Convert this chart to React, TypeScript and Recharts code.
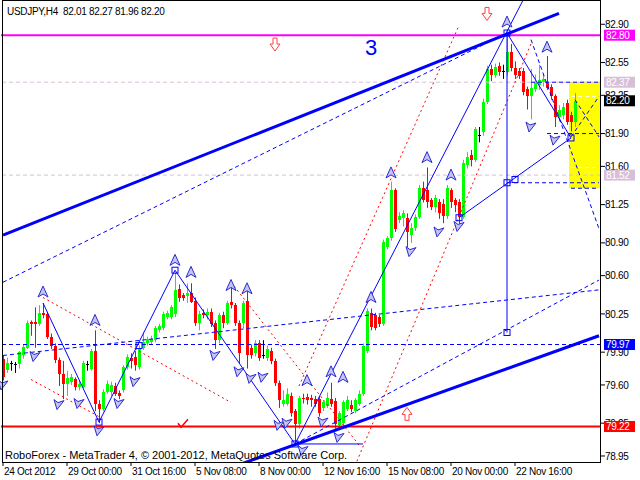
import React from 'react';
import { ComposedChart, Bar, XAxis, YAxis, ReferenceLine, ReferenceArea, ReferenceDot } from 'recharts';

const FONT = '"Liberation Sans", Arial, sans-serif';

const timeLabels = ['24 Oct 2012', '29 Oct 00:00', '31 Oct 16:00', '5 Nov 08:00', '8 Nov 00:00', '12 Nov 16:00', '15 Nov 08:00', '20 Nov 00:00', '22 Nov 16:00'];
const labelBars = [0, 16, 32, 48, 64, 80, 96, 112, 128];
const priceTicks = [82.9, 82.55, 82.25, 81.9, 81.6, 81.25, 80.9, 80.6, 80.25, 79.9, 79.6, 79.25, 78.95];
const totalSlots = 150;
const priceDomain = [78.895, 83.113];

const opens = [79.84,79.74,79.80,79.79,79.79,79.87,79.94,80.18,80.18,80.16, 80.26,80.25,80.04,79.96,79.83,79.70,79.61,79.63,79.65,79.58, 79.58,79.79,79.75,79.91,79.43,79.38,79.54,79.54,79.59,79.53, 79.55,79.76,79.85,79.86,79.76,79.94,79.98,79.99,80.01,80.10, 80.12,80.22,80.22,80.25,80.48,80.42,80.41,80.44,80.37,80.17, 80.26,80.24,80.27,80.17,80.01,80.24,80.17,80.36,80.33,80.17, 80.17,80.37,79.94,79.89,79.98,79.87,79.85,79.91,79.82,79.62, 79.43,79.43,79.50,79.36,79.24,79.48,79.49,79.48,79.47,79.47, 79.39,79.41,79.47,79.45,79.23,79.25,79.38,79.42,79.36,79.43, 79.52,79.91,80.26,80.24,80.22,80.16,80.86,80.94,81.38,81.11, 81.13,81.13,80.97,81.04,81.14,81.40,81.38,81.29,81.23,81.27, 81.26,81.15,81.38,81.29,81.27,81.14,81.61,81.70,81.66,81.89, 81.91,82.19,82.49,82.44,82.52,82.47,82.46,82.65,82.50,82.47, 82.47,82.31,82.24,82.31,82.34,82.37,82.37,82.33,82.24,82.05, 82.07,82.18,82.07,82.01];
const highs = [79.87,79.85,79.82,79.81,79.91,79.97,80.19,80.19,80.31,80.33, 80.35,80.27,80.07,79.98,79.85,79.82,79.73,79.70,79.67,79.64, 79.82,79.82,79.93,80.10,79.46,79.56,79.64,79.63,79.62,79.55, 79.78,79.88,79.89,79.91,79.96,80.08,80.04,80.05,80.14,80.16, 80.27,80.28,80.33,80.63,80.52,80.44,80.53,80.53,80.40,80.28, 80.29,80.30,80.30,80.19,80.26,80.27,80.37,80.50,80.35,80.19, 80.37,80.50,79.97,80.01,80.01,80.01,79.96,79.94,79.84,79.64, 79.55,79.57,79.53,79.38,79.50,79.52,79.52,79.51,79.50,79.49, 79.46,79.53,79.62,79.48,79.36,79.46,79.50,79.46,79.48,79.55, 79.98,80.30,80.30,80.26,80.24,80.93,80.96,81.46,81.40,81.18, 81.20,81.17,81.08,81.16,81.43,81.46,81.59,81.31,81.34,81.30, 81.30,81.43,81.40,81.31,81.30,81.66,81.73,81.75,81.96,81.96, 82.22,82.52,82.53,82.54,82.55,82.53,82.84,82.72,82.56,82.50, 82.50,82.33,82.49,82.44,82.53,82.44,82.61,82.35,82.26,82.16, 82.18,82.21,82.10,82.27];
const lows = [79.64,79.71,79.73,79.71,79.75,79.84,79.93,80.05,79.94,80.14, 80.21,80.02,79.93,79.80,79.59,79.47,79.50,79.60,79.55,79.55, 79.57,79.73,79.73,79.36,79.25,79.36,79.52,79.50,79.50,79.47, 79.53,79.74,79.75,79.73,79.74,79.92,79.96,79.97,79.99,80.08, 80.10,80.20,80.20,80.22,80.36,80.37,80.35,80.35,80.14,80.10, 80.21,80.20,80.13,79.93,79.98,80.12,80.15,80.30,80.14,79.80, 80.12,79.75,79.84,79.86,79.82,79.84,79.82,79.79,79.59,79.39, 79.40,79.41,79.31,79.07,79.20,79.43,79.42,79.40,79.40,79.31, 79.36,79.39,79.40,79.20,79.20,79.22,79.36,79.35,79.34,79.41, 79.50,79.89,80.10,80.10,80.13,80.14,80.84,80.92,81.00,81.08, 81.05,80.86,80.90,81.01,81.12,81.27,81.22,81.20,81.18,81.12, 81.08,81.12,81.22,81.18,81.05,81.12,81.58,81.60,81.64,81.82, 81.88,82.17,82.38,82.41,82.43,82.40,82.43,82.47,82.40,82.40, 82.25,82.12,82.03,82.28,82.30,82.33,82.30,82.21,81.96,82.01, 82.03,81.98,81.92,81.96];
const closes = [79.67,79.80,79.80,79.79,79.90,79.95,80.17,80.16,80.16,80.26, 80.24,80.04,79.96,79.83,79.70,79.61,79.66,79.67,79.58,79.61, 79.80,79.79,79.91,79.43,79.38,79.54,79.61,79.60,79.52,79.50, 79.76,79.86,79.82,79.78,79.94,79.99,80.02,80.02,80.12,80.14, 80.25,80.26,80.31,80.47,80.40,80.40,80.44,80.36,80.17,80.25, 80.24,80.27,80.16,80.01,80.24,80.17,80.35,80.33,80.17,79.89, 80.35,79.87,79.87,79.98,79.85,79.87,79.93,79.82,79.62,79.46, 79.46,79.52,79.34,79.24,79.48,79.47,79.46,79.46,79.43,79.34, 79.44,79.48,79.43,79.24,79.34,79.44,79.46,79.38,79.46,79.52, 79.96,80.28,80.13,80.12,80.16,80.91,80.94,81.38,81.03,81.15, 81.17,81.00,81.04,81.14,81.40,81.29,81.27,81.23,81.31,81.17, 81.15,81.40,81.27,81.25,81.14,81.63,81.69,81.66,81.94,81.89, 82.19,82.49,82.44,82.51,82.46,82.47,82.65,82.50,82.44,82.43, 82.28,82.24,82.32,82.37,82.39,82.40,82.32,82.24,82.05,82.12, 82.14,82.01,82.01,82.20];

// horizontal levels with price tags
const levelPrices = [82.8, 82.37, 82.2, 81.52, 79.97, 79.22];
const levelColors = ['#ff00ff', '#d8bfd8', '#000000', '#d8bfd8', '#0000ff', '#ff0000'];

// trendlines: [x1, y1, x2, y2] in (bar index, price)
const thickLines = [[0, 80.97, 139, 83.0], [59, 78.87, 149, 80.05]];
const solidLines = [
  [10, 80.35, 24, 79.26], [24, 79.26, 43, 80.65], [43, 80.65, 73, 79.06], [73, 79.06, 130, 83.12],
  [126, 82.82, 142, 81.86], [114, 81.13, 142, 81.86], [126, 82.82, 126, 80.08], [73, 79.06, 90, 79.06],
];
const dashedLines = [
  [0, 80.54, 126, 82.82], [0, 79.87, 149, 80.47], [73, 79.06, 149, 80.56], [126, 81.45, 149, 81.45],
  [132, 82.76, 149, 81.03], [132, 82.37, 149, 82.37], [136, 81.9, 149, 81.9], [142, 81.4, 149, 81.4],
  [142, 81.87, 149, 82.24], [143, 82.21, 149, 81.87],
];
const dottedRed = [
  [10, 80.4, 57, 79.44], [7, 79.65, 24, 79.31], [57, 80.54, 89, 79.05], [74, 79.59, 114, 82.89], [88, 78.86, 132, 82.72],
];
const whiteDashed = [[142, 82.24, 149, 82.24], [142, 81.59, 149, 81.59]];
const boxBars = [142, 149];
const boxPrices = [81.4, 82.37];

// markers
const upArrows = [[10, 80.45], [23, 80.19], [43, 80.74], [47, 80.63], [57, 80.51], [61, 80.48], [76, 79.64], [82, 79.72], [85, 79.67], [92, 80.4], [97, 81.54], [106, 81.68], [112, 81.52], [126, 82.92], [136, 82.69]];
const downArrows = [[0, 79.6], [8, 79.86], [14, 79.42], [19, 79.43], [24, 79.18], [29, 79.43], [33, 79.63], [53, 79.87], [59, 79.72], [62, 79.66], [65, 79.67], [69, 79.23], [71, 79.25], [75, 79.0], [80, 79.26], [84, 79.12], [102, 80.82], [109, 81.0], [114, 81.05], [132, 81.96], [138, 81.84]];
const squares = [[24, 79.26], [43, 80.65], [73, 79.06], [126, 82.82], [142, 81.86], [114, 81.13], [126, 81.45], [128, 81.48], [126, 80.08], [34, 79.96]];
const redDownSigns = [[68, 82.71], [121, 82.99]];
const redUpSigns = [[101, 79.34]];
const redChecks = [[45, 79.25]];
const waveLabel = { bar: 92, price: 82.69, text: '3' };

const data = Array.from({ length: totalSlots }, (_, i) =>
  i < opens.length
    ? { i, o: opens[i], h: highs[i], l: lows[i], c: closes[i], range: [lows[i], highs[i]] }
    : { i }
);

const Candle = (props: any) => {
  const { x, y, width, height, payload } = props;
  if (!payload || payload.h == null) return null;
  const { o, h, l, c } = payload;
  const top = Math.min(y, y + height);
  const hh = Math.abs(height);
  const k = h - l > 0 ? hh / (h - l) : 0;
  const cx = Math.round(x + width / 2);
  const bTop = top + (h - Math.max(o, c)) * k;
  const bBot = top + (h - Math.min(o, c)) * k;
  const color = c > o ? '#00ff00' : c < o ? '#ff0000' : '#000000';
  return (
    <g>
      <line x1={cx + 0.5} x2={cx + 0.5} y1={top} y2={top + hh} stroke={color} strokeWidth={1} />
      <rect x={cx - 1} y={Math.round(bTop)} width={3} height={Math.max(1, Math.round(bBot) - Math.round(bTop))} fill={color} />
    </g>
  );
};

const XTick = (props: any) => {
  const { x, y, payload } = props;
  const idx = labelBars.indexOf(payload.value);
  if (idx < 0) return null;
  return (
    <text x={x + 1} y={y} dy="0.71em" fontSize={10} fontFamily={FONT} letterSpacing={-0.3} fill="#000" textAnchor="start">
      {timeLabels[idx]}
    </text>
  );
};

const YTick = (props: any) => {
  const { x, y, payload } = props;
  return (
    <text x={x} y={y} dy="0.36em" fontSize={10} fontFamily={FONT} letterSpacing={-0.3} fill="#000" textAnchor="start">
      {Number(payload.value).toFixed(2)}
    </text>
  );
};

const levelTag = (color: string, label: string) => (p: any) => (
  <g>
    <rect x={p.cx + 3} y={p.cy - 5.5} width={31} height={11} fill={color} />
    <text x={p.cx + 5} y={p.cy} dy="0.36em" fontSize={10} fontFamily={FONT} letterSpacing={-0.3} fill="#fff">{label}</text>
  </g>
);

const UpArrow = (p: any) => (
  <path d={`M${p.cx},${p.cy - 6} L${p.cx + 5},${p.cy + 5} L${p.cx},${p.cy + 2} L${p.cx - 5},${p.cy + 5} Z`} fill="#c4c4f4" stroke="#2a2ad0" strokeWidth={1} />
);
const DownArrow = (p: any) => (
  <path d={`M${p.cx - 2},${p.cy + 5} L${p.cx - 5},${p.cy - 5} L${p.cx - 1},${p.cy - 2} L${p.cx + 5},${p.cy - 4} Z`} fill="#c4c4f4" stroke="#2a2ad0" strokeWidth={1} />
);
const Square = (p: any) => (
  <rect x={p.cx - 3} y={p.cy - 3} width={6} height={6} fill="none" stroke="#0000ff" strokeWidth={1} />
);
const RedDown = (p: any) => (
  <path d={`M${p.cx - 2},${p.cy - 7} L${p.cx + 2},${p.cy - 7} L${p.cx + 2},${p.cy - 1} L${p.cx + 5},${p.cy - 1} L${p.cx},${p.cy + 6} L${p.cx - 5},${p.cy - 1} L${p.cx - 2},${p.cy - 1} Z`} fill="#fff" stroke="#ff4040" strokeWidth={1} />
);
const RedUp = (p: any) => (
  <path d={`M${p.cx - 2},${p.cy + 7} L${p.cx + 2},${p.cy + 7} L${p.cx + 2},${p.cy + 1} L${p.cx + 5},${p.cy + 1} L${p.cx},${p.cy - 6} L${p.cx - 5},${p.cy + 1} L${p.cx - 2},${p.cy + 1} Z`} fill="#fff" stroke="#ff4040" strokeWidth={1} />
);
const RedCheck = (p: any) => (
  <path d={`M${p.cx - 5},${p.cy} L${p.cx - 2},${p.cy + 4} L${p.cx + 5},${p.cy - 4}`} fill="none" stroke="#ff0000" strokeWidth={1.5} />
);
const WaveText = (p: any) => (
  <text x={p.cx} y={p.cy} dy="0.36em" textAnchor="middle" fontSize={22} fontFamily={FONT} fill="#0000ff">{waveLabel.text}</text>
);

const seg = (l: number[]) => [{ x: l[0], y: l[1] }, { x: l[2], y: l[3] }] as any;

const chartProps = { width: 640, height: 480, data, margin: { top: 1, right: 0, bottom: 0, left: 1 } };

export default function App() {
  return (
    <div style={{ position: 'absolute', left: 0, top: 0, width: 640, height: 480, background: '#fff', overflow: 'hidden' }}>
      <ComposedChart {...chartProps}>
        <XAxis dataKey="i" type="category" ticks={labelBars} interval={0} tick={<XTick />} tickLine={{ stroke: '#000' }} tickSize={4} axisLine={false} height={18} />
        <YAxis orientation="right" type="number" domain={priceDomain} ticks={priceTicks} interval={0} allowDataOverflow width={39} tickSize={4} tickMargin={0} tickLine={{ stroke: '#000' }} axisLine={false} tick={<YTick />} />
        <ReferenceArea x1={boxBars[0]} x2={boxBars[1]} y1={boxPrices[0]} y2={boxPrices[1]} fill="#ffff00" fillOpacity={1} stroke="none" ifOverflow="hidden" />
        {whiteDashed.map((l, k) => (
          <ReferenceLine key={'w' + k} segment={seg(l)} stroke="#ffffff" strokeDasharray="4 3" ifOverflow="hidden" />
        ))}
        <ReferenceLine y={82.37} stroke="#d8bfd8" strokeDasharray="4 3" ifOverflow="hidden" />
        <ReferenceLine y={81.52} stroke="#d8bfd8" strokeDasharray="4 3" ifOverflow="hidden" />
        <Bar dataKey="range" shape={Candle} isAnimationActive={false} />
        <ReferenceLine y={82.8} stroke="#ff00ff" strokeWidth={2} ifOverflow="hidden" />
        <ReferenceLine y={79.22} stroke="#ff0000" strokeWidth={2} ifOverflow="hidden" />
        <ReferenceLine y={79.97} stroke="#0000ff" strokeDasharray="4 3" ifOverflow="hidden" />
        {dottedRed.map((l, k) => (
          <ReferenceLine key={'r' + k} segment={seg(l)} stroke="#ff0000" strokeDasharray="2 3" ifOverflow="hidden" />
        ))}
        {dashedLines.map((l, k) => (
          <ReferenceLine key={'d' + k} segment={seg(l)} stroke="#0000ff" strokeDasharray="4 3" ifOverflow="hidden" />
        ))}
        {solidLines.map((l, k) => (
          <ReferenceLine key={'s' + k} segment={seg(l)} stroke="#0000ff" strokeWidth={1} ifOverflow="hidden" />
        ))}
        {thickLines.map((l, k) => (
          <ReferenceLine key={'t' + k} segment={seg(l)} stroke="#0000ff" strokeWidth={3} ifOverflow="hidden" />
        ))}
        {squares.map((d, k) => <ReferenceDot key={'q' + k} x={d[0]} y={d[1]} shape={Square} />)}
        {upArrows.map((d, k) => <ReferenceDot key={'u' + k} x={d[0]} y={d[1]} shape={UpArrow} />)}
        {downArrows.map((d, k) => <ReferenceDot key={'v' + k} x={d[0]} y={d[1]} shape={DownArrow} />)}
        {redDownSigns.map((d, k) => <ReferenceDot key={'rd' + k} x={d[0]} y={d[1]} shape={RedDown} />)}
        {redUpSigns.map((d, k) => <ReferenceDot key={'ru' + k} x={d[0]} y={d[1]} shape={RedUp} />)}
        {redChecks.map((d, k) => <ReferenceDot key={'rc' + k} x={d[0]} y={d[1]} shape={RedCheck} />)}
        <ReferenceDot x={waveLabel.bar} y={waveLabel.price} shape={WaveText} />
      </ComposedChart>
      {/* overlay layer with the same scales, so price tags sit above axis labels */}
      <div style={{ position: 'absolute', left: 0, top: 0, pointerEvents: 'none' }}>
        <ComposedChart {...chartProps}>
          <XAxis dataKey="i" type="category" tick={false} tickLine={false} axisLine={false} height={18} />
          <YAxis orientation="right" type="number" domain={priceDomain} allowDataOverflow width={39} tick={false} tickLine={false} axisLine={false} />
          {levelPrices.map((v, k) => (
            <ReferenceDot key={'lv' + k} x={totalSlots - 1} y={v} shape={levelTag(levelColors[k], v.toFixed(2))} />
          ))}
        </ComposedChart>
      </div>
      <div style={{ position: 'absolute', left: 2, top: 0, width: 599, height: 463, border: '1px solid #000', boxSizing: 'border-box', pointerEvents: 'none' }} />
      <div style={{ position: 'absolute', left: 7, top: 7, fontFamily: FONT, fontSize: 10, lineHeight: '10px', letterSpacing: -0.3, whiteSpace: 'pre', color: '#000' }}>
        {'USDJPY,H4  82.01 82.27 81.96 82.20'}
      </div>
      <div style={{ position: 'absolute', left: 5, top: 450, fontFamily: FONT, fontSize: 11, lineHeight: '11px', whiteSpace: 'pre', color: '#000' }}>
        {'RoboForex - MetaTrader 4, © 2001-2012, MetaQuotes Software Corp.'}
      </div>
    </div>
  );
}
